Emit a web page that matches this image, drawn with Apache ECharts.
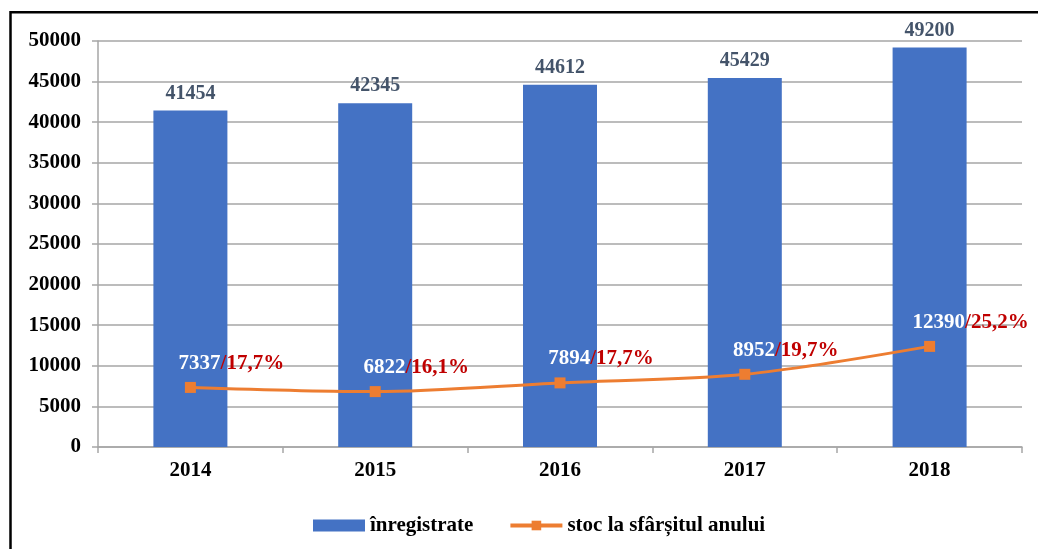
<!DOCTYPE html>
<html lang="ro">
<head>
  <meta charset="UTF-8">
  <title>Chart</title>
  <script src="https://cdn.jsdelivr.net/npm/echarts@6/dist/echarts.min.js"></script>
  <style>
    html, body { margin: 0; padding: 0; background: #fff; }
  </style>
</head>
<body>
  <div id="chart" style="width: 1038px; height: 549px"></div>

  <script>
    const years = ['2014', '2015', '2016', '2017', '2018']
    const inregistrate = [41454, 42345, 44612, 45429, 49200]
    const stoc = [7337, 6822, 7894, 8952, 12390]
    const stocPct = ['17,7%', '16,1%', '17,7%', '19,7%', '25,2%']
    const yTicks = [0, 5000, 10000, 15000, 20000, 25000, 30000, 35000, 40000, 45000, 50000]

    const font = '"Liberation Serif", "Times New Roman", serif'
    const myChart = echarts.init(document.getElementById('chart'))

    const option = {
      animation: false,
      textStyle: { fontFamily: font },
      graphic: [
        {
          type: 'rect',
          shape: { x: 10.5, y: 12.3, width: 1200, height: 700 },
          style: { fill: 'none', stroke: '#000', lineWidth: 2.5 },
          silent: true
        }
      ],
      grid: {
        left: 98,
        right: 16,
        top: 41,
        bottom: 102
      },
      legend: {
        left: 308,
        top: 510,
        itemGap: 35,
        itemWidth: 52,
        itemHeight: 12,
        lineStyle: { width: 4 },
        textStyle: {
          fontFamily: font,
          fontWeight: 'bold',
          fontSize: 21,
          color: '#000'
        },
        data: [
          { name: 'înregistrate', icon: 'rect' },
          { name: 'stoc la sfârșitul anului', lineStyle: { width: 4 } }
        ]
      },
      xAxis: {
        type: 'category',
        data: years,
        axisLine: { lineStyle: { color: '#a6a6a6', width: 1.5 } },
        axisTick: { show: true, length: 6, lineStyle: { color: '#a6a6a6', width: 1.5 } },
        axisLabel: {
          margin: 13,
          fontFamily: font,
          fontWeight: 'bold',
          fontSize: 21,
          color: '#000'
        }
      },
      yAxis: {
        type: 'value',
        min: yTicks[0],
        max: yTicks[yTicks.length - 1],
        interval: yTicks[1] - yTicks[0],
        axisLine: { show: true, lineStyle: { color: '#a6a6a6', width: 1.5 } },
        axisTick: { show: true, length: 6, lineStyle: { color: '#a6a6a6', width: 1.5 } },
        splitLine: { lineStyle: { color: '#a6a6a6', width: 1.5 } },
        axisLabel: {
          margin: 17,
          formatter: v => String(v),
          fontFamily: font,
          fontWeight: 'bold',
          fontSize: 21,
          color: '#000'
        }
      },
      series: [
        {
          name: 'înregistrate',
          type: 'bar',
          barWidth: 74,
          itemStyle: { color: '#4472c4' },
          label: {
            show: true,
            position: 'top',
            distance: 7,
            fontFamily: font,
            fontWeight: 'bold',
            fontSize: 20,
            color: '#44546a'
          },
          data: inregistrate
        },
        {
          name: 'stoc la sfârșitul anului',
          type: 'line',
          smooth: 0.3,
          symbol: 'rect',
          symbolSize: 11,
          lineStyle: { color: '#ed7d31', width: 3 },
          itemStyle: { color: '#ed7d31' },
          label: {
            show: true,
            position: 'top',
            distance: 5,
            offset: [41, -3],
            formatter: p => '{n|' + p.value + '}{p|/' + stocPct[p.dataIndex] + '}',
            rich: {
              n: { fontFamily: font, fontWeight: 'bold', fontSize: 21, color: '#fff' },
              p: { fontFamily: font, fontWeight: 'bold', fontSize: 21, color: '#c00000' }
            }
          },
          data: stoc
        }
      ]
    }

    myChart.setOption(option)
  </script>
</body>
</html>
